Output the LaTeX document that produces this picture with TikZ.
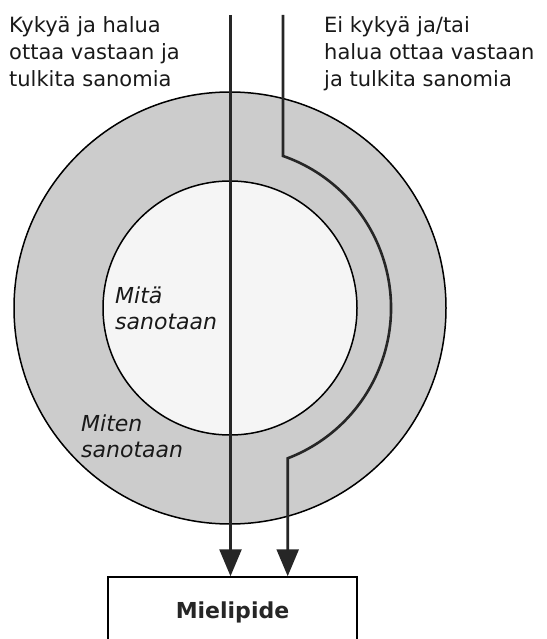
\documentclass[tikz,border=0pt]{standalone}
\usepackage{fontspec}
\setmainfont{DejaVu Sans}
\usetikzlibrary{arrows.meta,calc}

\begin{document}
\begin{tikzpicture}[x=1pt, y=1pt,
    arr/.style={line width=2.6pt, draw=black!85, -{Triangle[length=27pt 0,width=22pt 0]}},
    lbl/.style={anchor=north west, inner sep=0pt, align=left, text=black!90,
      font=\fontsize{21}{27}\selectfont},
    ilbl/.style={lbl, font=\fontsize{22}{26}\selectfont\itshape}]
  \useasboundingbox (0,0) rectangle (546,-639);
  % Ympyrät
  \coordinate (ctr) at (230,-308);
  \filldraw[fill=black!20, line width=1.5pt] (ctr) circle[radius=216];
  \filldraw[fill=black!4, line width=1.5pt] (ctr) circle[radius=127];
  % Tekstit ylhäällä
  \node[lbl] (kyky) at (9,-16) {Kykyä ja halua\\ottaa vastaan ja\\tulkita sanomia};
  \node[lbl] (eikyky) at (324,-16) {Ei kykyä ja/tai\\halua ottaa vastaan\\ja tulkita sanomia};
  % Tekstit ympyröissä
  \node[ilbl] (mita) at (115,-287) {Mitä\\sanotaan};
  \node[ilbl] (miten) at (81,-415) {Miten\\sanotaan};
  % Laatikko
  \node[draw, line width=1.5pt, minimum width=249pt, minimum height=70pt,
    font=\bfseries\fontsize{22}{24}\selectfont, text=black!85] (mielipide) at (232.5,-612) {Mielipide};
  % Nuolet
  \coordinate (vtop) at (230.5,-15);
  \coordinate (etop) at (283,-15);
  \coordinate (etulo) at ($(ctr)+(70.77:161)$);
  \coordinate (elahto) at ($(ctr)+(-69:161)$);
  \draw[arr] (vtop) -- (vtop |- mielipide.north);
  \draw[arr] (etop) -- (etulo) arc[start angle=70.77, end angle=-69, radius=161]
    -- (elahto |- mielipide.north);
\end{tikzpicture}
\end{document}
